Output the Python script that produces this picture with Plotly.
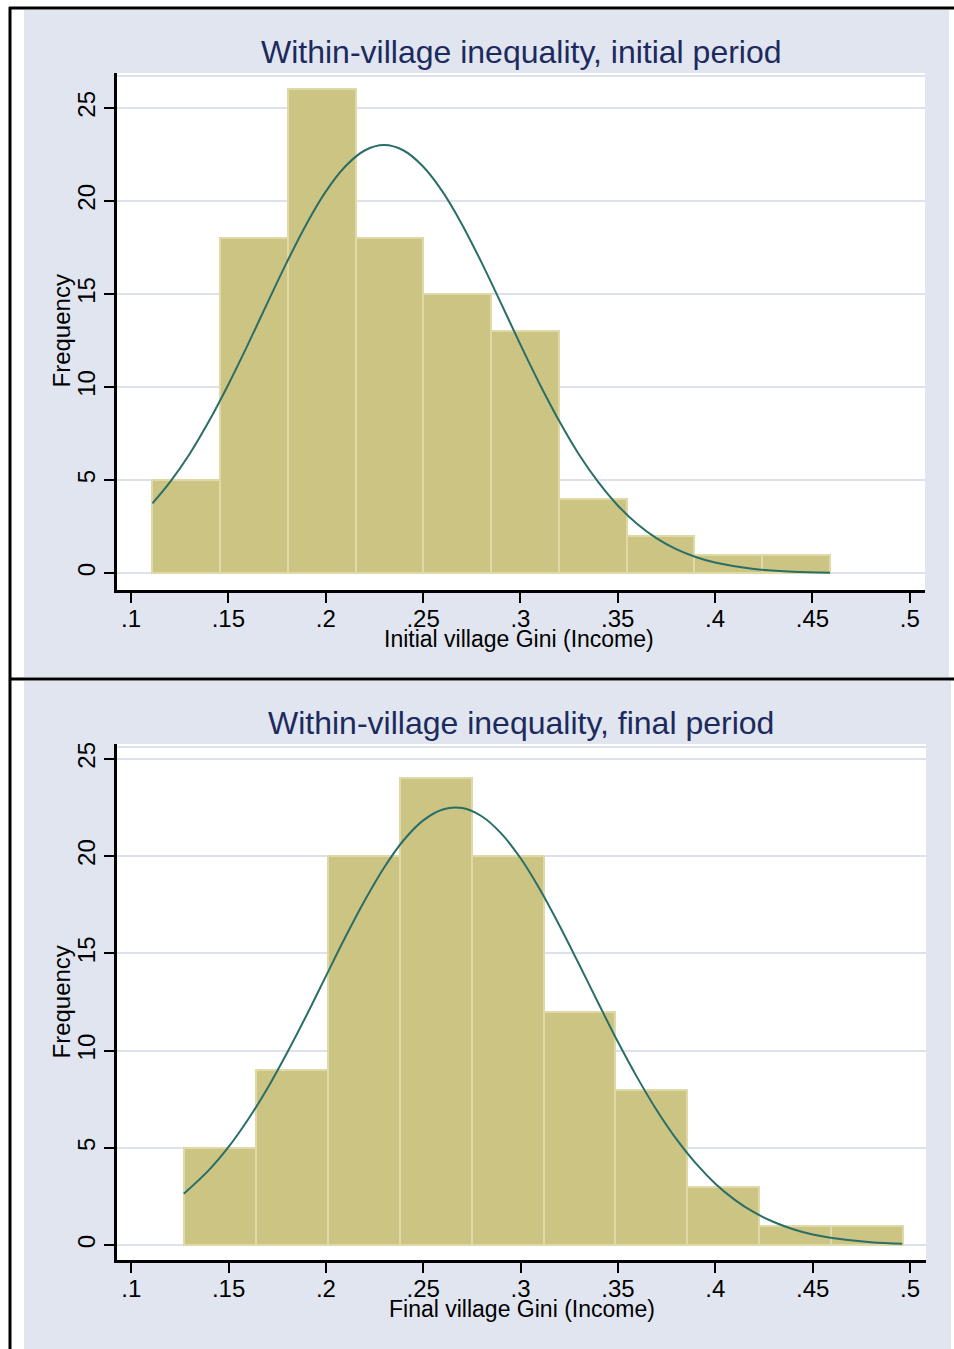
import plotly.graph_objects as go

W, H = 954, 1349

# ---------------- data ----------------
init_bin_start = 0.1109
init_bin_width = 0.0348
init_counts = [5, 18, 26, 18, 15, 13, 4, 2, 1, 1]

final_bin_start = 0.1273
final_bin_width = 0.0369
final_counts = [5, 9, 20, 24, 20, 12, 8, 3, 1, 1]

init_curve_x = [0.111, 0.12, 0.13, 0.14, 0.15, 0.16, 0.17, 0.18, 0.19, 0.20, 0.21, 0.22,
                0.23, 0.24, 0.25, 0.26, 0.27, 0.28, 0.29, 0.30, 0.31, 0.32, 0.33, 0.34,
                0.35, 0.36, 0.37, 0.38, 0.39, 0.40, 0.42, 0.44, 0.459]
init_curve_y = [3.75, 4.89, 6.39, 8.16, 10.14, 12.28, 14.51, 16.70, 18.74, 20.50, 21.85, 22.71,
                23.0, 22.71, 21.85, 20.50, 18.74, 16.70, 14.51, 12.28, 10.14, 8.16, 6.39, 4.89,
                3.64, 2.64, 1.87, 1.29, 0.87, 0.57, 0.23, 0.08, 0.03]

final_curve_x = [0.127, 0.14, 0.15, 0.16, 0.17, 0.18, 0.19, 0.20, 0.21, 0.22, 0.23, 0.24,
                 0.25, 0.26, 0.27, 0.28, 0.29, 0.30, 0.31, 0.32, 0.33, 0.34, 0.35, 0.36,
                 0.37, 0.38, 0.39, 0.40, 0.41, 0.42, 0.43, 0.44, 0.45, 0.46, 0.48, 0.496]
final_curve_y = [2.64, 3.87, 5.05, 6.46, 8.07, 9.88, 11.81, 13.83, 15.84, 17.73, 19.43, 20.83,
                 21.84, 22.40, 22.47, 22.05, 21.17, 19.89, 18.27, 16.42, 14.44, 12.42, 10.44, 8.60,
                 6.92, 5.45, 4.20, 3.16, 2.33, 1.68, 1.19, 0.82, 0.55, 0.37, 0.15, 0.07]

x_tickvals = [0.1, 0.15, 0.2, 0.25, 0.3, 0.35, 0.4, 0.45, 0.5]
x_ticktext = [".1", ".15", ".2", ".25", ".3", ".35", ".4", ".45", ".5"]
y_tickvals = [0, 5, 10, 15, 20, 25]
y_ticktext = ["0", "5", "10", "15", "20", "25"]

titles = ["Within-village inequality, initial period", "Within-village inequality, final period"]
xtitles = ["Initial village Gini (Income)", "Final village Gini (Income)"]
ytitle = "Frequency"

# ---------------- styling ----------------
FONT = "Arial, 'Liberation Sans', sans-serif"
BG = "#E0E5EF"
GRID = "#DCE1EC"
BAR_FILL = "#CBC482"
BAR_LINE = "#DFD9A8"
CURVE = "#2A6E68"
NAVY = "#1C2A5E"


def px(x):
    return x / W


def py(y):
    return 1 - y / H


fig = go.Figure()

panels = [
    dict(start=init_bin_start, width=init_bin_width, counts=init_counts,
         cx=init_curve_x, cy=init_curve_y, xa="x", ya="y"),
    dict(start=final_bin_start, width=final_bin_width, counts=final_counts,
         cx=final_curve_x, cy=final_curve_y, xa="x2", ya="y2"),
]

for p in panels:
    centers = [p["start"] + (i + 0.5) * p["width"] for i in range(len(p["counts"]))]
    fig.add_trace(go.Bar(x=centers, y=p["counts"], width=p["width"],
                         marker=dict(color=BAR_FILL, line=dict(color=BAR_LINE, width=2)),
                         xaxis=p["xa"], yaxis=p["ya"], showlegend=False))
    fig.add_trace(go.Scatter(x=p["cx"], y=p["cy"], mode="lines",
                             line=dict(color=CURVE, width=2, shape="spline"),
                             xaxis=p["xa"], yaxis=p["ya"], showlegend=False))

# plot area geometry (pixels)
top_plot = dict(x0=117, x1=925, y0=71, y1=589)
bot_plot = dict(x0=117, x1=926, y0=743, y1=1260)

xcommon = dict(tickvals=x_tickvals, ticktext=x_ticktext, showline=True, linecolor="black",
               linewidth=2.5, ticks="outside", ticklen=10, tickwidth=2, tickcolor="black",
               showgrid=False, zeroline=False, ticklabelstandoff=-5,
               tickfont=dict(family=FONT, size=24, color="black"))
ycommon = dict(tickvals=y_tickvals, ticktext=y_ticktext, showline=True, linecolor="black",
               linewidth=2.5, ticks="outside", ticklen=10, tickwidth=2, tickcolor="black",
               showgrid=True, gridcolor=GRID, gridwidth=2, zeroline=False, tickangle=-90,
               tickfont=dict(family=FONT, size=24, color="black"))

fig.update_layout(
    width=W, height=H, margin=dict(l=0, r=0, t=0, b=0),
    paper_bgcolor="white", plot_bgcolor="rgba(0,0,0,0)",
    bargap=0, showlegend=False,
    xaxis=dict(domain=[px(top_plot["x0"]), px(top_plot["x1"])], range=[0.0928, 0.5078],
               anchor="y", **xcommon),
    yaxis=dict(domain=[py(top_plot["y1"]), py(top_plot["y0"])], range=[-0.91, 26.88],
               anchor="x", **ycommon),
    xaxis2=dict(domain=[px(bot_plot["x0"]), px(bot_plot["x1"])], range=[0.0927, 0.5082],
                anchor="y2", **xcommon),
    yaxis2=dict(domain=[py(bot_plot["y1"]), py(bot_plot["y0"])], range=[-0.77, 25.77],
                anchor="x2", **ycommon),
)

shapes = []
# light background panels
shapes.append(dict(type="rect", xref="paper", yref="paper", x0=px(24), x1=px(949),
                   y0=py(676), y1=py(8), fillcolor=BG, line=dict(width=0), layer="below"))
shapes.append(dict(type="rect", xref="paper", yref="paper", x0=px(24), x1=px(951),
                   y0=py(H), y1=py(680), fillcolor=BG, line=dict(width=0), layer="below"))
# white plot regions
for r in (top_plot, bot_plot):
    shapes.append(dict(type="rect", xref="paper", yref="paper", x0=px(r["x0"]), x1=px(r["x1"]),
                       y0=py(r["y1"]), y1=py(r["y0"]), fillcolor="white",
                       line=dict(width=0), layer="below"))
    shapes.append(dict(type="line", xref="paper", yref="paper", x0=px(r["x0"]), x1=px(r["x1"]),
                       y0=py(r["y0"] + 3), y1=py(r["y0"] + 3), line=dict(color=GRID, width=2),
                       layer="below"))
# black frame lines
shapes.append(dict(type="line", xref="paper", yref="paper", x0=px(10), x1=px(10),
                   y0=py(H), y1=py(5), line=dict(color="black", width=3)))
shapes.append(dict(type="line", xref="paper", yref="paper", x0=px(9), x1=px(W),
                   y0=py(6), y1=py(6), line=dict(color="black", width=3)))
shapes.append(dict(type="line", xref="paper", yref="paper", x0=px(9), x1=px(W),
                   y0=py(678), y1=py(678), line=dict(color="black", width=3)))
fig.update_layout(shapes=shapes)

ann = []
for t, yc in zip(titles, (50, 722)):
    ann.append(dict(text=t, x=px(521), y=py(yc), xref="paper", yref="paper", showarrow=False,
                    xanchor="center", yanchor="middle",
                    font=dict(family=FONT, size=32, color=NAVY)))
for t, yc, xc in zip(xtitles, (638, 1309), (519, 522)):
    ann.append(dict(text=t, x=px(xc), y=py(yc), xref="paper", yref="paper", showarrow=False,
                    xanchor="center", yanchor="middle",
                    font=dict(family=FONT, size=23, color="black")))
for yc in (329, 1001):
    ann.append(dict(text=ytitle, x=px(62), y=py(yc), xref="paper", yref="paper", showarrow=False,
                    xanchor="center", yanchor="middle", textangle=-90,
                    font=dict(family=FONT, size=24, color="black")))
fig.update_layout(annotations=ann)

fig.write_html("out.html", config={"displayModeBar": False},
               post_script="document.body.style.margin='0';document.body.style.overflow='hidden';")
